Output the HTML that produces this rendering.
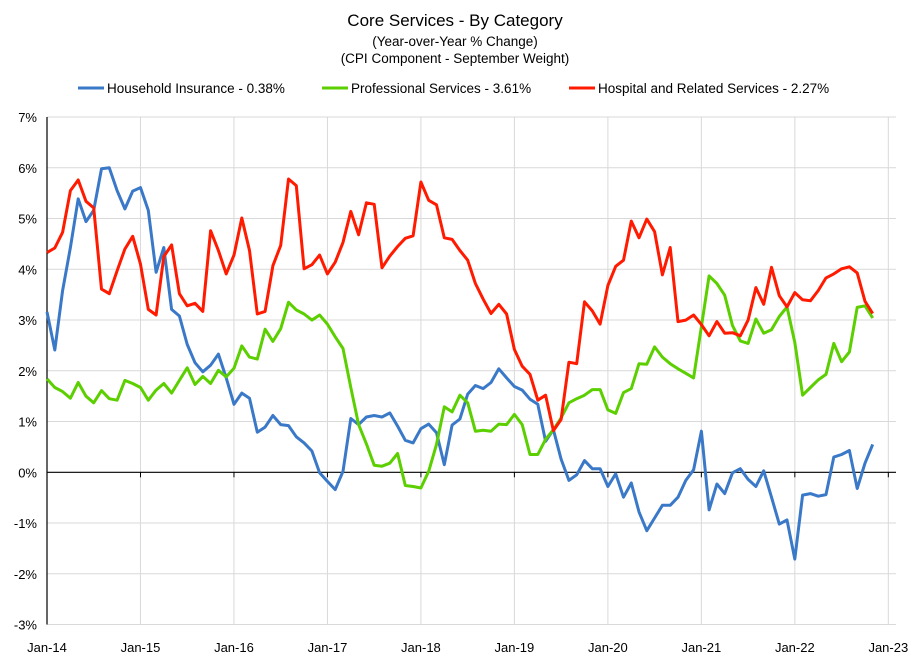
<!DOCTYPE html>
<html><head><meta charset="utf-8"><style>
body{margin:0;background:#fff;}
svg{font-family:"Liberation Sans",sans-serif;}
</style></head><body>
<svg width="911" height="661" viewBox="0 0 911 661">
<text x="455" y="26" text-anchor="middle" font-size="17">Core Services  - By Category</text>
<text x="455" y="46" text-anchor="middle" font-size="13.5">(Year-over-Year % Change)</text>
<text x="455" y="63" text-anchor="middle" font-size="13.5">(CPI Component - September Weight)</text>
<g font-size="13.5">
<line x1="78" y1="88" x2="104" y2="88" stroke="#3a78c8" stroke-width="3"/>
<text x="107" y="93">Household Insurance - 0.38%</text>
<line x1="322" y1="88" x2="348" y2="88" stroke="#5ccf00" stroke-width="3"/>
<text x="351" y="93">Professional Services - 3.61%</text>
<line x1="569" y1="88" x2="595" y2="88" stroke="#ff1a00" stroke-width="3"/>
<text x="598" y="93">Hospital and Related Services - 2.27%</text>
</g>
<g id="grid"></g>
<g id="axes"></g>
<g id="series"></g>
</svg>
<script>
const yTicks=[7,6,5,4,3,2,1,0,-1,-2,-3];
const xLabels=["Jan-14","Jan-15","Jan-16","Jan-17","Jan-18","Jan-19","Jan-20","Jan-21","Jan-22","Jan-23"];
const household=[3.16,2.41,3.58,4.43,5.39,4.94,5.16,5.98,6.0,5.55,5.19,5.54,5.61,5.16,3.94,4.43,3.21,3.08,2.52,2.16,1.98,2.11,2.33,1.86,1.34,1.56,1.46,0.79,0.89,1.12,0.94,0.92,0.70,0.58,0.42,-0.01,-0.18,-0.34,0.02,1.06,0.94,1.09,1.12,1.09,1.17,0.91,0.63,0.58,0.86,0.95,0.78,0.15,0.93,1.05,1.54,1.71,1.65,1.77,2.04,1.86,1.69,1.62,1.44,1.34,0.61,0.84,0.26,-0.16,-0.05,0.23,0.07,0.07,-0.28,-0.03,-0.49,-0.21,-0.78,-1.15,-0.90,-0.65,-0.65,-0.49,-0.16,0.05,0.81,-0.74,-0.23,-0.42,-0.01,0.07,-0.14,-0.28,0.03,-0.49,-1.02,-0.94,-1.71,-0.45,-0.42,-0.47,-0.44,0.30,0.35,0.43,-0.32,0.18,0.55];
const professional=[1.84,1.67,1.59,1.46,1.77,1.50,1.37,1.61,1.45,1.42,1.81,1.75,1.67,1.42,1.62,1.75,1.56,1.81,2.06,1.73,1.89,1.75,2.01,1.88,2.05,2.49,2.27,2.23,2.82,2.58,2.83,3.35,3.20,3.12,3.00,3.10,2.92,2.67,2.44,1.67,0.94,0.56,0.14,0.12,0.18,0.37,-0.26,-0.28,-0.31,0.02,0.55,1.29,1.19,1.52,1.37,0.81,0.83,0.81,0.95,0.94,1.14,0.94,0.35,0.35,0.65,0.84,1.07,1.37,1.45,1.52,1.63,1.63,1.23,1.16,1.57,1.65,2.14,2.13,2.47,2.27,2.14,2.04,1.95,1.86,2.87,3.87,3.72,3.49,2.89,2.59,2.54,3.02,2.74,2.81,3.07,3.26,2.56,1.52,1.67,1.82,1.93,2.54,2.18,2.37,3.25,3.28,3.04];
const hospital=[4.33,4.42,4.73,5.55,5.76,5.34,5.21,3.61,3.52,3.97,4.40,4.65,4.10,3.21,3.10,4.25,4.48,3.52,3.28,3.33,3.17,4.76,4.37,3.91,4.28,5.01,4.37,3.12,3.17,4.07,4.47,5.78,5.65,4.01,4.09,4.28,3.91,4.14,4.53,5.14,4.68,5.31,5.28,4.03,4.26,4.45,4.61,4.66,5.72,5.36,5.27,4.62,4.59,4.37,4.18,3.72,3.41,3.13,3.31,3.12,2.42,2.09,1.93,1.42,1.52,0.82,1.04,2.17,2.14,3.36,3.18,2.92,3.68,4.06,4.18,4.95,4.62,4.99,4.74,3.89,4.43,2.97,3.00,3.10,2.91,2.69,2.97,2.74,2.75,2.69,3.00,3.64,3.31,4.04,3.48,3.26,3.54,3.40,3.38,3.58,3.83,3.91,4.01,4.05,3.93,3.37,3.13];

const NS="http://www.w3.org/2000/svg";
const X0=47, DX=7.79, Y0=472.3, DY=50.75, RIGHT=896;
const xs=i=>X0+i*DX;
const ys=v=>Y0-v*DY;
function mk(tag,attrs,parent){const e=document.createElementNS(NS,tag);for(const k in attrs)e.setAttribute(k,attrs[k]);parent.appendChild(e);return e;}
const grid=document.getElementById('grid'),axes=document.getElementById('axes'),series=document.getElementById('series');
yTicks.forEach(t=>{
  const y=ys(t);
  if(t!==0){const l=mk('line',{x1:X0,x2:RIGHT,y1:y,y2:y,stroke:'#d9d9d9','stroke-width':1},grid);
  
  }
  const tx=mk('text',{x:X0-10,y:y+5,'text-anchor':'end','font-size':13},axes);
  tx.textContent=t+'%';
  
  
});
xLabels.forEach((lab,k)=>{
  const x=xs(k*12);
  if(k>0){const l=mk('line',{x1:x,x2:x,y1:ys(7),y2:ys(-3),stroke:'#d9d9d9','stroke-width':1},grid);
  
  }
  const tk=mk('line',{x1:x,x2:x,y1:Y0,y2:Y0+5,stroke:'#000','stroke-width':1},axes);
  
  
  const tx=mk('text',{x:x,y:652,'text-anchor':'middle','font-size':13},axes);
  tx.textContent=lab;
  
  
});
const za=mk('line',{x1:X0,x2:RIGHT,y1:Y0,y2:Y0,stroke:'#000','stroke-width':1.2},axes);


const ya=mk('line',{x1:X0,x2:X0,y1:ys(7),y2:ys(-3),stroke:'#000','stroke-width':1.2},axes);


function line(data,color,name){
  const p=mk('polyline',{points:data.map((v,i)=>xs(i).toFixed(1)+','+ys(v).toFixed(1)).join(' '),fill:'none',stroke:color,'stroke-width':3,'stroke-linejoin':'round'},series);
  
  
}
line(household,'#3a78c8','household-insurance-line');
line(professional,'#5ccf00','professional-services-line');
line(hospital,'#ff1a00','hospital-services-line');
</script>
</body></html>
